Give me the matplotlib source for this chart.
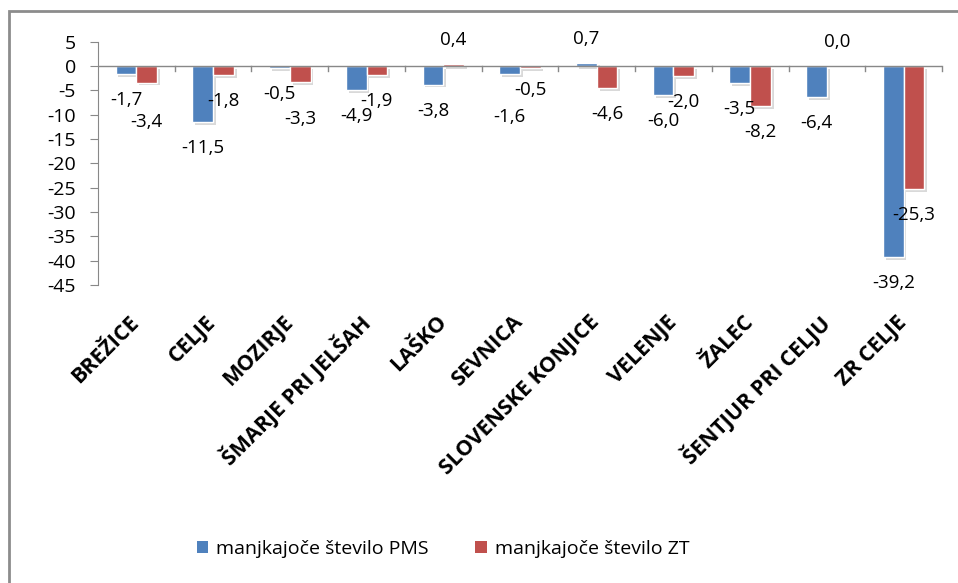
import matplotlib
matplotlib.use("Agg")
import matplotlib.pyplot as plt
import matplotlib.patheffects as pe
from matplotlib.patches import Rectangle
import numpy as np

plt.rcParams['font.family'] = ['Open Sans', 'DejaVu Sans']

categories = ["BREŽICE", "CELJE", "MOZIRJE", "ŠMARJE PRI JELŠAH", "LAŠKO", "SEVNICA",
              "SLOVENSKE KONJICE", "VELENJE", "ŽALEC", "ŠENTJUR PRI CELJU", "ZR CELJE"]
pms = [-1.7, -11.5, -0.5, -4.9, -3.8, -1.6, 0.7, -6.0, -3.5, -6.4, -39.2]
zt = [-3.4, -1.8, -3.3, -1.9, 0.4, -0.5, -4.6, -2.0, -8.2, 0.0, -25.3]
series_names = ["manjkajoče število PMS", "manjkajoče število ZT"]
yticks = [5, 0, -5, -10, -15, -20, -25, -30, -35, -40, -45]

BLUE = "#4F81BD"
RED = "#C0504D"

W, H = 958, 583
fig = plt.figure(figsize=(W / 100, H / 100), dpi=100)

# outer chart frame
fig.patches.append(Rectangle((9 / W, -0.1), 1.2, 1 - 11 / H + 0.1, transform=fig.transFigure,
                             fill=False, edgecolor="#8c8c8c", linewidth=2))

ax = fig.add_axes([98 / W, 1 - 285 / H, (942 - 98) / W, (285 - 41.7) / H])
ax.set_xlim(0, len(categories))
ax.set_ylim(-45, 5)

x = np.arange(len(categories)) + 0.5
bw = 0.27
shadow = [pe.SimplePatchShadow(offset=(2, -2), shadow_rgbFace="#000000", alpha=0.15), pe.Normal()]
b1 = ax.bar(x - bw / 2, pms, bw, color=BLUE, edgecolor="white", linewidth=1.0,
            label=series_names[0], zorder=3, path_effects=shadow)
b2 = ax.bar(x + bw / 2, zt, bw, color=RED, edgecolor="white", linewidth=1.0,
            label=series_names[1], zorder=3, path_effects=shadow)

# data labels, vertical offsets in pixels (a few nudged apart to avoid overlap)
nudge_pms = {5: -17}
nudge_zt = {0: -13, 2: -11, 5: 4}


def fmt(v):
    return f"{v:.1f}".replace(".", ",")


for i, (a, b) in enumerate(zip(pms, zt)):
    for val, xc, nd in ((a, x[i] - bw / 2, nudge_pms), (b, x[i] + bw / 2, nudge_zt)):
        dy = 24 if val >= 0 else -26
        dy += nd.get(i, 0)
        ax.annotate(fmt(val), xy=(xc, val), xytext=(0, dy), textcoords="offset pixels",
                    ha="center", va="center", fontsize=13.5, color="black", zorder=5)

# axes styling
for s in ("top", "right"):
    ax.spines[s].set_visible(False)
ax.spines["bottom"].set_visible(False)
ax.spines["left"].set_color("#888888")
ax.axhline(0, color="#888888", linewidth=1.0, zorder=4)
ax.set_yticks(yticks)
ax.set_yticklabels([str(t) for t in yticks], fontsize=14)
ax.tick_params(axis="y", length=6, color="#888888", pad=10)
ax.set_xticks([])
# category separators on the zero line
for k in range(1, len(categories) + 1):
    ax.plot([k, k], [0, -1.1], color="#888888", linewidth=1.0, zorder=4, clip_on=False)

# rotated category names below the plot
trans = ax.get_xaxis_transform()
for xc, name in zip(x, categories):
    ax.text(xc + 0.0, -0.14, name, transform=trans, rotation=45, ha="right", va="center",
            rotation_mode="anchor", fontsize=15.5, fontweight="bold", color="black")

# legend
handles = [b1, b2]
leg = fig.legend(handles, series_names, loc="center", bbox_to_anchor=(443 / W, 1 - 549 / H),
                 ncol=2, frameon=False, fontsize=14, handlelength=0.6, handleheight=0.6,
                 handletextpad=0.4, columnspacing=2.4)
for h in leg.legend_handles:
    h.set_path_effects([])
    h.set_edgecolor("none")

fig.savefig("out.png", dpi=100)
